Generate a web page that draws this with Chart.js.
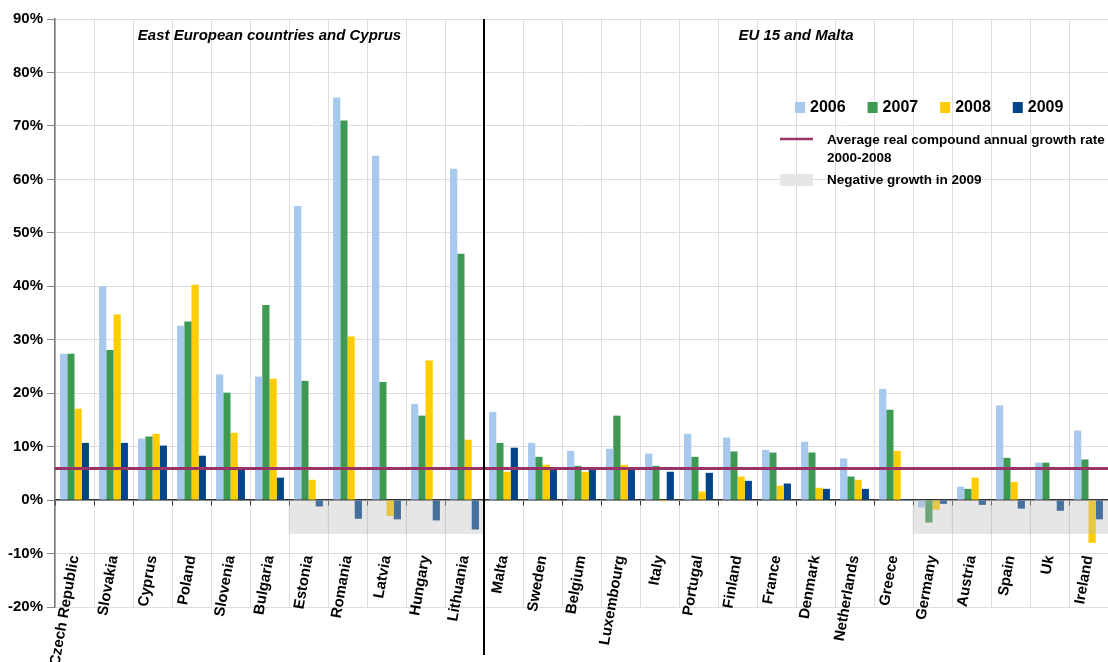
<!DOCTYPE html>
<html>
<head>
<meta charset="utf-8">
<script src="https://cdn.jsdelivr.net/npm/chart.js@4.4.1/dist/chart.umd.min.js"></script>
<style>
  html, body { margin: 0; padding: 0; background: #fff; }
  canvas { display: block; }
</style>
</head>
<body>
<canvas id="myChart" width="1108" height="662"></canvas>
<script>
// Dados (variação anual, %)
const paises = [
    'Czech Republic', 'Slovakia', 'Cyprus', 'Poland', 'Slovenia', 'Bulgaria', 'Estonia', 'Romania',
    'Latvia', 'Hungary', 'Lithuania',
    'Malta', 'Sweden', 'Belgium', 'Luxembourg', 'Italy', 'Portugal', 'Finland', 'France', 'Denmark',
    'Netherlands', 'Greece', 'Germany', 'Austria', 'Spain', 'Uk', 'Ireland'
];
const anos = ['2006', '2007', '2008', '2009'];
const v2006 = [27.4, 40.0, 11.5, 32.6, 23.5, 23.1, 55.0, 75.3, 64.4, 18.0, 62.0,
    16.5, 10.7, 9.2, 9.6, 8.7, 12.4, 11.7, 9.4, 10.9, 7.8, 20.8, -1.4, 2.5, 17.7, 7.0, 13.0];
const v2007 = [27.4, 28.1, 11.9, 33.4, 20.1, 36.5, 22.3, 71.0, 22.1, 15.8, 46.1,
    10.7, 8.1, 6.4, 15.8, 6.4, 8.1, 9.1, 8.9, 8.9, 4.4, 16.9, -4.2, 2.1, 7.9, 7.0, 7.6];
const v2008 = [17.1, 34.7, 12.4, 40.3, 12.6, 22.7, 3.8, 30.6, -3.0, 26.1, 11.3,
    5.3, 6.6, 5.3, 6.6, -0.2, 1.6, 4.4, 2.7, 2.3, 3.8, 9.2, -1.8, 4.2, 3.4, null, -8.0];
const v2009 = [10.7, 10.7, 10.2, 8.3, 5.8, 4.2, -1.2, -3.5, -3.6, -3.8, -5.5,
    9.8, 5.9, 5.9, 5.9, 5.3, 5.1, 3.6, 3.1, 2.1, 2.1, 0.2, -0.7, -0.9, -1.6, -2.0, -3.6];
const mediaCrescimento = 5.9; // média 2000-2008
const faixaNegativa = [null, null, null, null, null, null, -6.3, -6.3, -6.3, -6.3, -6.3,
    null, null, null, null, null, null, null, null, null, null, null, -6.3, -6.3, -6.3, -6.3, -6.3];
const titulosGrupos = ['East European countries and Cyprus', 'EU 15 and Malta'];
const ultimoLeste = 10; // índice do último país do primeiro grupo
const legendaLinha = ['Average real compound annual growth rate', '2000-2008'];
const legendaFaixa = 'Negative growth in 2009';

const cores = ['#a7c9ee', '#3e9a52', '#ffcc00', '#00448a'];
const corLinha = '#993366';
const corFaixa = 'rgba(186, 186, 186, 0.37)';

Chart.defaults.font.family = '"Liberation Sans", Arial, sans-serif';
Chart.defaults.color = '#000';

// Plugin: separador, títulos dos grupos e legenda
const extras = {
    id: 'extras',
    afterDraw(chart) {
        const { ctx, chartArea, scales } = chart;
        const x = scales.x;
        const sepX = Math.round((x.getPixelForValue(ultimoLeste) + x.getPixelForValue(ultimoLeste + 1)) / 2);
        ctx.save();
        ctx.strokeStyle = '#000';
        ctx.lineWidth = 2;
        ctx.beginPath();
        ctx.moveTo(sepX, chartArea.top);
        ctx.lineTo(sepX, chartArea.bottom + 48);
        ctx.stroke();

        ctx.fillStyle = '#000';
        ctx.textBaseline = 'middle';
        ctx.textAlign = 'center';
        ctx.font = 'italic bold 15px "Liberation Sans", Arial, sans-serif';
        ctx.fillText(titulosGrupos[0], (chartArea.left + sepX) / 2, 36);
        ctx.fillText(titulosGrupos[1], (sepX + chartArea.right) / 2, 36);

        // legenda dos anos
        ctx.textAlign = 'left';
        ctx.font = 'bold 16px "Liberation Sans", Arial, sans-serif';
        let lx = 795;
        chart.data.datasets.slice(0, 4).forEach((ds) => {
            ctx.fillStyle = ds.backgroundColor;
            ctx.fillRect(lx, 102, 10, 11);
            ctx.fillStyle = '#000';
            ctx.fillText(ds.label, lx + 15, 108);
            lx += 15 + ctx.measureText(ds.label).width + 22;
        });

        // linha média
        ctx.strokeStyle = corLinha;
        ctx.lineWidth = 2.5;
        ctx.beginPath();
        ctx.moveTo(780, 139);
        ctx.lineTo(813, 139);
        ctx.stroke();
        ctx.font = 'bold 13.5px "Liberation Sans", Arial, sans-serif';
        ctx.fillText(legendaLinha[0], 827, 140);
        ctx.fillText(legendaLinha[1], 827, 158);

        // faixa cinza
        ctx.fillStyle = '#e6e6e6';
        ctx.fillRect(780, 174, 33, 12);
        ctx.fillStyle = '#000';
        ctx.fillText(legendaFaixa, 827, 180);
        ctx.restore();
    }
};

const serie = (label, data, cor) => ({
    label: label,
    data: data,
    backgroundColor: cor,
    borderWidth: 0,
    barPercentage: 1.0,
    categoryPercentage: 0.74,
    order: 2
});

const ctx = document.getElementById('myChart').getContext('2d');
const myChart = new Chart(ctx, {
    type: 'bar',
    data: {
        labels: paises,
        datasets: [
            serie(anos[0], v2006, cores[0]),
            serie(anos[1], v2007, cores[1]),
            serie(anos[2], v2008, cores[2]),
            serie(anos[3], v2009, cores[3]),
            {
                label: legendaFaixa,
                data: faixaNegativa,
                backgroundColor: corFaixa,
                borderWidth: 0,
                barPercentage: 1.0,
                categoryPercentage: 1.0,
                grouped: false, // ocupa a categoria inteira, por cima das barras
                order: 1
            }
        ]
    },
    options: {
        responsive: false,
        animation: false,
        layout: {
            padding: { top: 19, right: 0, bottom: 55, left: 0 }
        },
        plugins: {
            legend: { display: false },
            tooltip: { enabled: false }
        },
        scales: {
            x: {
                position: { y: 0 },
                grid: {
                    offset: true,
                    color: '#dddddd',
                    tickColor: '#333',
                    tickLength: 5
                },
                border: { color: '#333', width: 1.5 },
                ticks: {
                    autoSkip: false,
                    minRotation: 80,
                    maxRotation: 80,
                    padding: 49,
                    color: '#000',
                    font: { size: 15, weight: 'bold' }
                },
                afterFit: (scale) => {
                    scale.paddingLeft = 0;
                    scale.paddingRight = 0;
                }
            },
            y: {
                min: -20,
                max: 90,
                ticks: {
                    stepSize: 10,
                    padding: 4,
                    color: '#000',
                    font: { size: 15, weight: 'bold' },
                    callback: (value) => value + '%'
                },
                grid: {
                    color: '#dddddd',
                    tickColor: '#888',
                    tickLength: 8
                },
                border: { color: '#777', width: 1.5 },
                afterFit: (scale) => { scale.width = 55; }
            },
            // eixo auxiliar: uma única linha na média, desenhada acima das barras
            yMedia: {
                position: 'right',
                min: -20,
                max: 90,
                afterBuildTicks: (scale) => { scale.ticks = [{ value: mediaCrescimento }]; },
                ticks: { display: false },
                grid: {
                    z: 1,
                    color: corLinha,
                    lineWidth: 3,
                    drawTicks: false
                },
                border: { display: false }
            }
        }
    },
    plugins: [extras]
});
</script>
</body>
</html>
